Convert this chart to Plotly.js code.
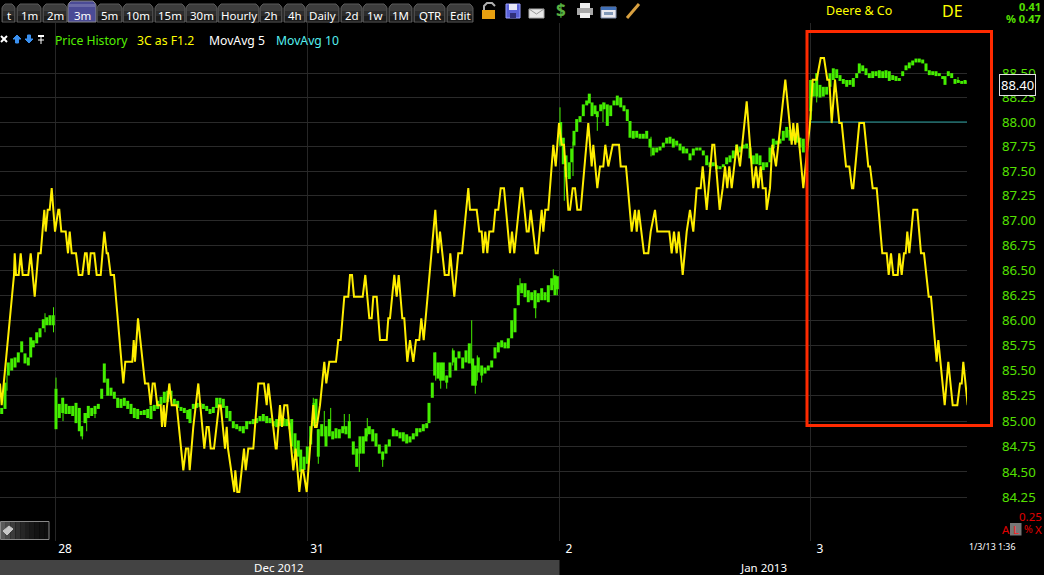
<!DOCTYPE html>
<html><head><meta charset="utf-8">
<script src="https://cdn.plot.ly/plotly-3.0.1.min.js"></script>
<style>html,body{margin:0;padding:0;background:#000;overflow:hidden}#c{width:1044px;height:575px}</style>
</head><body><div id="c"></div>
<script>
// Price bars: position along the time axis, high and low (log price axis)
const greenX=[1.7,5,8.3,11.7,15,18.3,21.7,25,28.3,30.7,33.3,36.7,40,43.3,46.7,50,53.3,null,
56,59.3,62.7,66,69.3,72.7,76,79.3,81.7,85,88.3,91.7,95,98.3,101.7,104.3,107.7,111,114.3,117.7,121,124.3,127.7,131,134.3,137.7,141,144.3,147.7,151,154.3,157.7,161,164.3,167.7,171,174.3,177.7,181,184.3,187.7,190,193.3,196.7,200,203.3,206.7,210,213.3,216.7,220,223.3,226.7,230,233.3,236.7,240,243.3,246.7,250,253.3,256.7,260,263.3,266.7,270,273.3,276.7,280,283.3,286.7,290,291.7,295,298.3,300.7,304,307.3,
310.7,314,316,318.3,321.7,326,329.3,332.7,336,339.3,342.7,346,349.3,353.3,356.7,360,363.3,366,369.3,372.7,376,379.3,382.7,386,389.3,393.3,396.7,400,403.3,406.7,410,413.3,416.7,420,423.3,426.7,429,432.3,434.7,438,440.7,443.3,446.7,450,453.3,455.7,459,462.7,466,469.3,472.7,475.3,478.3,481.7,485,488.3,491.7,495,498.3,501.7,505,508.3,511.7,515,518.3,521.7,525,528.3,531.7,535,538.3,541.7,545,548.3,551.7,555,557.3,
560.7,563.3,566,569.3,571.7,574,576.7,580,583.3,586.7,589.3,592,595,597.3,600.7,604,607.3,610.7,614,617.3,620.7,624,627.3,630,633.3,636.7,640,643.3,646.7,650,653.3,656.7,660,663.3,666.7,670,673.3,676.7,680,683.3,686.7,690,693.3,696.7,700,703.3,706.7,710,713.3,716.7,720,723.3,726.7,730,733.3,736.7,740,743.3,746.7,750,753.3,756.7,760,763.3,766.7,770,773.3,776.7,780,783.3,786.7,790,793.3,796.7,800,803.3,
810.7,813.3,816.7,820,823.3,826.7,830,833.3,836.7,840,843.3,846.7,850,853.3,856.7,859.3,862.7,866,869.3,872.7,876,879.3,882.7,886,889.3,892.7,896,899.3,902.7,906,909.3,912.7,916,919.3,922.7,926,929.3,932.7,936,939.3,942.7,945,948.3,951.7,955,958.3,961.7,965,968];
const greenHigh=[85.13,85.38,85.58,85.62,85.63,85.68,85.79,85.67,85.63,85.83,85.8,85.88,85.92,86.01,86.03,86.05,86.05,null,
85.32,85.17,85.23,85.17,85.15,85.15,85.18,85.13,84.95,85.08,85.15,85.13,85.15,85.17,85.32,85.57,85.42,85.33,85.29,85.23,85.22,85.23,85.2,85.17,85.13,85.12,85.1,85.11,85.12,85.15,85.16,85.2,85.24,85.29,85.3,85.3,85.22,85.2,85.14,85.13,85.11,85.12,85.17,85.18,85.18,85.17,85.15,85.12,85.14,85.23,85.23,85.22,85.15,85.1,85,84.97,84.95,84.95,85,85,85.02,85.03,85.05,85.07,85.05,85.03,85,85.02,85.05,85.03,85.02,84.98,85.02,84.88,84.81,84.72,84.65,84.75,
84.95,85.18,85.22,84.92,84.97,84.95,85.02,84.9,84.93,84.92,84.95,84.95,85,84.8,84.73,84.85,84.85,84.93,84.95,84.92,84.88,84.77,84.7,84.77,84.82,84.93,84.91,84.89,84.89,84.87,84.85,84.88,84.93,84.93,84.97,84.98,85.18,85.38,85.68,85.58,85.58,85.58,85.45,85.58,85.7,85.63,85.69,85.63,85.7,85.77,85.62,85.55,85.63,85.55,85.53,85.55,85.6,85.73,85.78,85.8,85.78,85.82,86,86.12,86.35,86.37,86.37,86.3,86.28,86.3,86.27,86.32,86.28,86.35,86.42,86.45,86.44,
88,87.84,87.66,87.59,87.73,87.91,88.03,88.06,88.18,88.22,88.29,88.2,88.17,88.11,88.18,88.2,88.18,88.17,88.22,88.27,88.25,88.17,88.13,88.01,87.91,87.91,87.88,87.88,87.91,87.83,87.74,87.74,87.75,87.79,87.84,87.85,87.83,87.81,87.78,87.75,87.73,87.68,87.73,87.74,87.74,87.71,87.66,87.59,87.59,87.56,87.55,87.57,87.64,87.66,87.71,87.77,87.75,87.77,87.78,87.74,87.66,87.68,87.66,87.59,87.59,87.74,87.83,87.81,87.83,87.91,87.95,87.92,87.93,87.88,87.84,87.83,
88.43,88.4,88.5,88.38,88.36,88.36,88.5,88.55,88.54,88.48,88.44,88.43,88.43,88.45,88.5,88.6,88.58,88.55,88.5,88.52,88.52,88.53,88.52,88.53,88.52,88.48,88.47,88.45,88.52,88.58,88.61,88.63,88.65,88.65,88.64,88.6,88.53,88.52,88.52,88.5,88.47,88.47,88.52,88.5,88.44,88.43,88.42,88.43,88.42];
const greenLow=[85.07,85.12,85.45,85.5,85.53,85.58,85.68,85.57,85.55,85.63,85.73,85.77,85.83,85.92,85.95,85.95,85.95,null,
84.92,85.03,85.08,85.07,85.07,85.05,84.98,84.9,84.85,84.98,85.03,85.05,85.07,85.12,85.22,85.38,85.25,85.25,85.22,85.13,85.13,85.15,85.12,85.07,85.03,85.02,85.06,85.06,85.03,85.02,85.1,85.12,85.16,85.18,85.19,85.22,85.16,85.13,85.1,85.08,85.02,84.98,85.12,85.13,85.14,85.12,85.1,85.07,85.08,85.13,85.17,85.13,85.03,85,84.93,84.92,84.9,84.88,84.92,84.97,84.97,84.98,85,85,84.98,84.98,84.95,84.94,84.95,84.95,84.95,84.92,84.75,84.68,84.65,84.5,84.52,84.58,
84.77,84.95,84.98,84.65,84.85,84.75,84.85,84.82,84.83,84.83,84.88,84.87,84.83,84.67,84.55,84.68,84.68,84.8,84.87,84.8,84.75,84.68,84.62,84.68,84.75,84.85,84.85,84.83,84.8,84.78,84.79,84.82,84.85,84.89,84.9,84.93,84.98,85.23,85.45,85.42,85.4,85.4,85.38,85.43,85.58,85.5,85.62,85.52,85.58,85.57,85.35,85.35,85.48,85.45,85.47,85.5,85.53,85.62,85.68,85.73,85.72,85.72,85.82,85.88,86.15,86.27,86.23,86.18,86.2,86.12,86.18,86.2,86.2,86.18,86.3,86.25,86.31,
87.76,87.57,87.44,87.42,87.59,87.76,87.9,88,88.06,88.17,88.19,88.06,88.08,88.05,88.11,88.13,87.96,88.06,88.17,88.17,88.15,88.11,88.01,87.84,87.83,87.84,87.83,87.83,87.83,87.74,87.66,87.69,87.71,87.74,87.78,87.78,87.74,87.76,87.71,87.68,87.68,87.61,87.66,87.71,87.71,87.66,87.56,87.54,87.55,87.52,87.52,87.54,87.57,87.59,87.63,87.66,87.69,87.73,87.73,87.63,87.57,87.57,87.56,87.51,87.54,87.59,87.73,87.77,87.78,87.81,87.84,87.81,87.81,87.79,87.74,87.69,
88.11,88.26,88.26,88.25,88.26,88.28,88.36,88.43,88.45,88.42,88.39,88.36,88.38,88.36,88.45,88.5,88.52,88.48,88.45,88.45,88.47,88.45,88.45,88.45,88.42,88.43,88.42,88.42,88.47,88.53,88.55,88.58,88.61,88.61,88.6,88.52,88.48,88.48,88.47,88.47,88.44,88.38,88.47,88.45,88.39,88.4,88.39,88.39,88.39];
// Thin wicks reaching past the bar bodies
const wickX=[7,45,53.5,56,63,82.3,86.7,95,313.3,318.3,324.3,330.7,344.3,349.3,359.3,367.3,382.7,435.7,440.7,446.7,452.7,471.7,475.3,477.3,481.7,520,535.7,553.3,557.3,560,564.3,573,597.3,603,651,811.2,816.7,958];
const wickHigh=[85.45,86.07,86.13,85.43,85.23,84.95,85.08,85.13,85.23,84.92,85.1,85.13,85.07,85.07,84.72,85.03,84.7,85.68,85.5,85.45,85.72,86,85.5,85.65,85.5,86.42,86.2,86.51,86.35,88.15,87.55,87.8,88.08,88.2,87.85,88.3,88.5,88.46];
const wickLow=[85.3,85.88,85.88,85.32,85,84.82,84.9,85.03,85.1,84.58,84.85,84.9,84.92,84.9,84.5,84.85,84.55,85.4,85.32,85.32,85.55,85.55,85.27,85.4,85.38,86.3,86.02,86.35,86.25,87.75,87.2,87.45,87.91,88,87.65,88.02,88.2,88.4];
// 3C oscillator: stepped levels on its own hidden scale (rows of ten line up in both arrays)
const threeCX=[
0,1.7,14,14.7,16,18.7,20.7,22.7,28.3,30.7,
34.7,38.3,40.7,42.3,44.3,45.7,47.7,49.7,51.7,55,
58.3,59.3,61.3,65.7,68,69.7,71.7,76,78.7,82.3,
85,86.7,88.7,90.7,94.3,96.7,100.7,104.3,106.7,108,
110.7,114,123.3,125.3,132.3,133.7,135,138,145,148.3,
150.7,152.7,154.7,157.3,160.7,162,163.7,165,169.3,171.7,
176.7,183.3,186,188.3,189.7,193.3,198.3,204.3,206.7,208.7,
210.7,214,219,220.7,225,226.7,228,234.3,235.3,237.3,
239.3,244,245.7,248.3,253.3,258.3,264,266.7,268.3,275.7,
276.7,280,282,284.3,287.3,293.3,295.7,299.3,301.7,303.3,
306.7,313.3,315,316.7,320,324.3,326.3,329.3,336,338.3,
340.7,344.3,348.3,350,352,354,362.7,365.3,369.3,371.7,
373.3,376.7,380,386.7,388.3,390,394.3,396.7,398.7,402.3,
404.3,407.3,410,413.3,416,419.3,421.3,423.7,435.3,438,
440,444.7,448.7,450.3,454.3,458.3,462,468.3,470,476.7,
479.3,481.7,483.3,485.3,487.3,489.3,493.3,495.3,498.3,500.7,
504,510,512,514.3,521,522.3,526.7,528.7,530.7,535.7,
537.7,541.7,543.3,545.3,548.3,553.3,555.7,559,561.7,564,
568.3,570,572.7,575,577.3,580.7,588.3,591.7,593.3,597.3,
600,603.3,605.3,608.3,612.7,619,620.7,626,631.7,635,
636.7,638.7,641.7,644,648.3,650.7,655,657.3,669.3,671.7,
674,676.7,678.7,682.7,686.7,690,693.3,696.7,700.7,702.7,
706.7,712.3,714.3,719.7,722.7,725,727.3,729.3,731.7,734.3,
736.7,740,746.7,753.3,756,758.3,760.7,762.7,765.7,766.7,
770,772.3,776,778.3,785.3,791.7,793.3,795.3,797.3,799.3,
803.3,810,812.7,816.7,820.7,824,827.3,829.3,831.7,835,
839.3,841.7,846,849.3,852,853.3,859.3,864,868.3,870,
872.7,876.7,882.3,886.7,888.7,891,893.3,897.7,899.3,901.7,
904,905.7,907.3,909.3,913.3,917.3,921,924,928.7,931,
936.7,938.3,944.7,948.3,952.7,957.3,960,961.7,963.3,967.7];
const threeCLevel=[
5,4,10,11,10,10,11,10,10,11,
9,11,11,12,13,12,13,13,14,12,
13,13,12,12,11,12,11,11,10,10,
11,11,10,11,11,10,10,12,11,11,
10,10,5,6,6,7,6,8,5,5,
4,5,5,4,4,3,4,3,5,4,
4,1,2,2,1,3,5,2,3,3,
2,2,4,4,2,3,2,0,1,0,
0,2,1,2,2,5,5,4,5,2,
2,4,3,4,4,1,2,0,1,1,
0,4,3,3,4,6,5,6,6,7,
7,9,9,10,10,9,9,10,8,8,
9,9,7,7,8,8,10,9,10,8,
8,6,7,6,7,7,8,7,13,11,
12,10,10,11,9,11,11,14,13,13,
12,12,11,12,11,12,12,13,13,14,
14,11,12,11,14,14,12,12,13,11,
11,13,12,13,13,16,15,17,16,16,
13,13,14,14,13,13,17,15,16,14,
15,15,16,15,16,16,15,15,12,13,
12,13,12,11,11,12,13,12,12,11,
12,11,12,10,12,13,12,14,14,15,
13,16,16,13,14,15,14,15,14,15,
16,15,18,14,15,14,15,14,14,13,
14,16,15,16,19,16,17,16,17,16,
14,17,19,19,20,20,19,19,17,19,
17,17,15,15,14,14,17,17,15,15,
14,14,11,11,10,11,10,10,11,10,
11,11,12,11,13,13,11,11,9,9,
6,7,4,6,4,4,5,5,6,4];
// Flat moving average in the boxed session
const maX=[810,968];
const maY=[88,88];
// Axis
const priceTicks=[88.5,88.25,88,87.75,87.5,87.25,87,86.75,86.5,86.25,86,85.75,85.5,85.25,85,84.75,84.5,84.25];
const priceLabels=["88.50","88.25","88.00","87.75","87.50","87.25","87.00","86.75","86.50","86.25","86.00","85.75","85.50","85.25","85.00","84.75","84.50","84.25"];
const dayTicks=[55,307,559,810];
const dayLabels=["28","31","2","3"];
const monthLabels=["Dec 2012","Jan 2013"];
const tabLabels=["t","1m","2m","3m","5m","10m","15m","30m","Hourly","2h","4h","Daily","2d","1w","1M","QTR","Edit"];
const tabEdges=[[2,15],[17,41],[43,67],[68,96],[97,122],[123,153],[155,185],[186,217],[218,259],[260,282],[284,305],[306,339],[341,362],[363,387],[389,412],[414,445],[447,473]];

const W=1044,H=575;
const px=x=>x/W, py=y=>1-y/H;
const FONT='"Noto Sans", sans-serif';
const ann=[],shp=[];
function T(x,y,text,color,size,anchor,extra){ann.push(Object.assign({xref:'paper',yref:'paper',x:px(x),y:py(y),text:text,showarrow:false,xanchor:anchor||'left',yanchor:'middle',borderpad:0,font:{family:FONT,size:size,color:color}},extra||{}));}
function R(x0,y0,x1,y1,fill,line,lw){shp.push({type:'rect',xref:'paper',yref:'paper',x0:px(x0),x1:px(x1),y0:py(y0),y1:py(y1),fillcolor:fill||'rgba(0,0,0,0)',line:{color:line||'rgba(0,0,0,0)',width:lw||0}});}
function P(pts,fill,line,lw,closed){const d=pts.map((p,i)=>(i?'L':'M')+px(p[0])+' '+py(p[1])).join(' ')+(closed?' Z':'');shp.push({type:'path',xref:'paper',yref:'paper',path:d,fillcolor:fill||'rgba(0,0,0,0)',line:{color:line||'rgba(0,0,0,0)',width:lw||0}});}

// Toolbar tabs
tabLabels.forEach((t,i)=>{
  const a=tabEdges[i][0],b=tabEdges[i][1],act=t==='3m',top=act?1:4;
  P([[a,22],[a,top+4],[a+1,top+2],[a+3,top],[b-3,top],[b-1,top+2],[b,top+4],[b,22]],act?'#4b4b96':'#3c3c3c',act?'#8a8a8a':'#5a5a5a',1,true);
  if(!act){R(a+1,11,b-1,16,'#2c2c2c');R(a+1,16,b-1,21.5,'#1c1c1c');}
  else{R(a+1,4,b-1,7,'#6a6aa8');}
  T((a+b)/2,15.5,t,'#ffffff',11.5,'center');
});
// Toolbar icons
R(482,10,495,19,'#e8a010');P([[484,10],[484,6],[487,3],[492,3],[495,6]],null,'#b0b0b0',2);
R(506,4,520,18,'#5a62d8','#9aa0ff',1);R(509,4,517,10,'#e8e8f8');R(510,13,516,18,'#30307a');
R(529,9,544,18,'#e8e8e8','#aaaaaa',1);P([[529,9],[536.5,14],[544,9]],null,'#999999',1);
T(560.5,11,'<b>$</b>','#58b040',17,'center');
R(580,3,590,8,'#eeeeee');R(577,8,593,15,'#a8a8a8');R(580,13,590,18,'#f0f0f0');
R(601,7,616,18,'#e8e8f0','#8090b0',1);R(601,7,616,10,'#4070b8');R(604,12,613,15,'#8098b8');
P([[627,18],[639,4]],null,'#d8a040',3);
// Legend glyphs
P([[1,36],[7,42]],null,'#ffffff',2);P([[7,36],[1,42]],null,'#ffffff',2);
P([[17,35],[13,39],[15.5,39],[15.5,43],[18.5,43],[18.5,39],[21,39]],'#3a90f0','#3a90f0',1,true);
P([[29,43],[25,39],[27.5,39],[27.5,35],[30.5,35],[30.5,39],[33,39]],'#3a90f0','#3a90f0',1,true);
P([[38,36],[44,36]],null,'#ffffff',2);P([[41,36],[41,44]],null,'#ffffff',1);P([[38,40],[44,40]],null,'#ffffff',1);

T(54,40.5,'Price History','#55f000',12.2);
T(136,40.5,'3C as F1.2','#ffff00',12.2);
T(208,40.5,'MovAvg 5','#ffffff',12.2);
T(275,40.5,'MovAvg 10','#55f0f0',12.2);
T(825,10.5,'Deere &amp; Co','#ffff00',12.5);
T(941,10.5,'DE','#ffff00',16);
T(1042,7,'<b>0.41</b>','#55e000',11,'right');
T(1042,19,'<b>% 0.47</b>','#55e000',11,'right');
// Red box
R(807,31.5,991.5,425.5,null,'#ff2a00',3);
// Last price box
T(1017.5,84.8,'88.40','#ffffff',13,'center',{bgcolor:'#000000',bordercolor:'#e0e0e0',borderwidth:1,borderpad:1});
// Bottom-right status
T(1043,516.5,'0.25','#e00000',11.5,'right');
R(1010,523,1021.5,535.5,'#777777');
T(1001,529,'A','#e00000',11.5,'left');
T(1012,529,'L','#ff2020',11.5,'left');
T(1023,529,'%','#e00000',10.5,'left');
T(1034,529,'X','#e00000',11.5,'left');
T(968,547,'1/3/13 1:36','#ffffff',8.8,'left');
// Slider widget
['#5a5a5a','#4a4a4a','#3c3c3c','#303030','#262626','#1e1e1e','#181818','#131313','#101010','#0e0e0e'].forEach((c,i)=>R(1+i*4.8,522,1+(i+1)*4.8,539,c));
R(0.5,521.5,49,539.5,null,'#888888',1);
P([[3,531],[9,526],[13,529],[7,535]],'#c8c8c8','#c8c8c8',1,true);
// Month strip
R(0,560,559.5,575,'#434343');
T(279,567.3,monthLabels[0],'#ffffff',11.5,'center');
T(763,567.3,monthLabels[1],'#ffffff',11.5,'center');

function segs(xs,hi,lo){const x=[],y=[];xs.forEach((v,i)=>{if(v===null)return;x.push(v,v,null);y.push(lo[i],hi[i],null);});return {x,y};}
const body=segs(greenX,greenHigh,greenLow), wick=segs(wickX,wickHigh,wickLow);

const data=[
 {type:'scatter',mode:'lines',name:'MovAvg 10',x:maX,y:maY,xaxis:'x',yaxis:'y',line:{color:'#229a9a',width:1.2},hoverinfo:'skip'},
 {type:'scatter',mode:'lines',name:'Price wick',x:wick.x,y:wick.y,xaxis:'x',yaxis:'y',line:{color:'#44ee00',width:1},hoverinfo:'skip'},
 {type:'scatter',mode:'lines',name:'Price History',x:body.x,y:body.y,xaxis:'x',yaxis:'y',line:{color:'#44ee00',width:3},hoverinfo:'skip'},
 {type:'scatter',mode:'lines',name:'3C as F1.2',x:threeCX,y:threeCLevel,xaxis:'x',yaxis:'y2',line:{color:'#ffee00',width:2},hoverinfo:'skip'}
];
const layout={
 width:W,height:H,margin:{l:0,r:0,t:0,b:0,pad:0},paper_bgcolor:'#000',plot_bgcolor:'#000',showlegend:false,
 xaxis:{domain:[0,967/W],range:[0,967],tickmode:'array',tickvals:dayTicks,ticktext:dayLabels,showgrid:true,gridcolor:'#262626',gridwidth:1,zeroline:false,showline:false,ticks:'',ticklabelshift:10,ticklabelstandoff:-1,tickfont:{family:FONT,size:12,color:'#ffffff'},anchor:'y',fixedrange:true},
 yaxis:{domain:[1-541/H,1-23/H],type:'log',range:[1.92338,1.94947],side:'right',anchor:'x',tickmode:'array',tickvals:priceTicks,ticktext:priceLabels,showgrid:true,gridcolor:'#2a2a2a',gridwidth:1,zeroline:false,showline:false,ticks:'',ticklabelstandoff:34,tickfont:{family:FONT,size:13.2,color:'#55e000'},fixedrange:true},
 yaxis2:{domain:[1-541/H,1-23/H],overlaying:'y',anchor:'x',range:[-2.258,21.61],visible:false,fixedrange:true},
 shapes:shp,annotations:ann
};
Plotly.newPlot('c',data,layout,{displayModeBar:false,staticPlot:true});
</script></body></html>
